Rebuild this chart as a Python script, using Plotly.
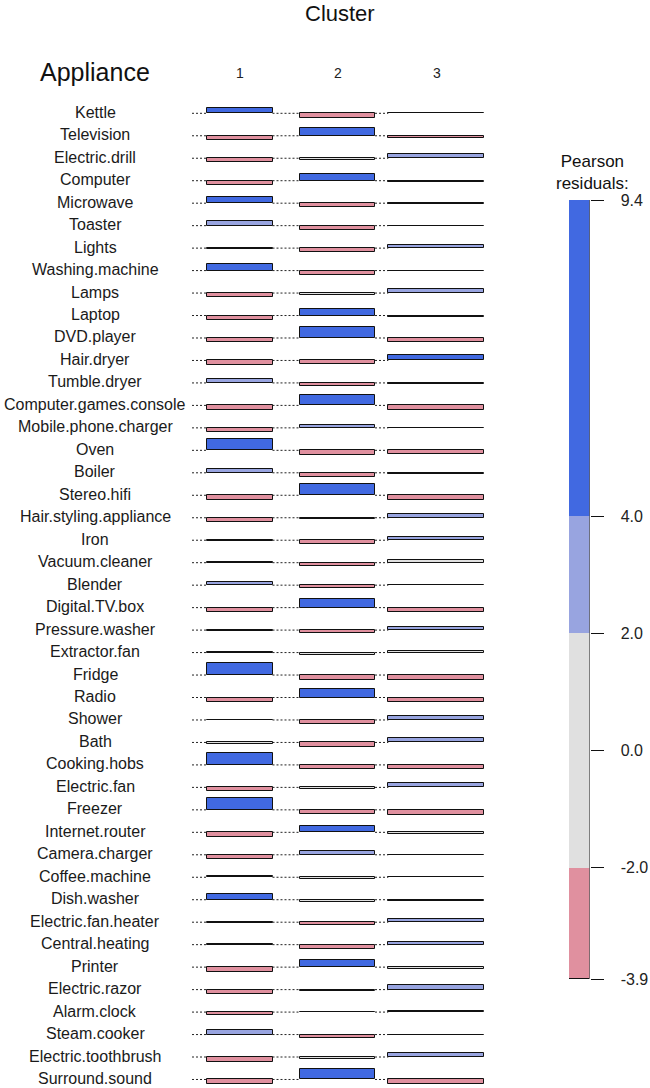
import plotly.graph_objects as go

appliances = [
    "Kettle", "Television", "Electric.drill", "Computer", "Microwave", "Toaster",
    "Lights", "Washing.machine", "Lamps", "Laptop", "DVD.player", "Hair.dryer",
    "Tumble.dryer", "Computer.games.console", "Mobile.phone.charger", "Oven",
    "Boiler", "Stereo.hifi", "Hair.styling.appliance", "Iron", "Vacuum.cleaner",
    "Blender", "Digital.TV.box", "Pressure.washer", "Extractor.fan", "Fridge",
    "Radio", "Shower", "Bath", "Cooking.hobs", "Electric.fan", "Freezer",
    "Internet.router", "Camera.charger", "Coffee.machine", "Dish.washer",
    "Electric.fan.heater", "Central.heating", "Printer", "Electric.razor",
    "Alarm.clock", "Steam.cooker", "Electric.toothbrush", "Surround.sound",
]
clusters = ["1", "2", "3"]

res_cluster1 = [
    4.5, -3.4, -3.0, -3.3, 4.6, 3.6, -0.8, 5.0, -3.0, -3.4, -3.2, -3.4,
    3.2, -3.4, -3.5, 9.4, 3.1, -3.4, -3.3, -1.0, 0.2, 2.9, -3.4, -1.0,
    0.1, 9.4, -3.4, 0.1, -0.9, 9.4, -3.0, 9.2, -3.5, -3.6, 1.3, 4.8,
    -0.8, 0.8, -3.6, -3.4, -2.4, 3.3, -3.6, -3.7,
]
res_cluster2 = [
    -3.5, 5.9, -1.5, 5.3, -3.1, -3.5, -2.8, -3.6, -1.6, 5.0, 8.5, -2.6,
    -2.4, 8.0, 2.6, -3.5, -3.3, 8.8, -1.2, -2.7, -2.5, -2.5, 7.0, -2.3,
    -1.8, -3.6, 7.2, -3.5, -3.3, -3.4, -1.3, -3.6, 4.8, 3.4, -1.4, -1.7,
    -2.3, -3.3, 5.4, -1.3, 0.4, -3.0, -1.2, 8.4,
]
res_cluster3 = [
    0.2, -2.1, 3.3, -1.2, -0.5, 0.1, 2.9, -0.3, 3.3, -1.3, -3.6, 4.3,
    -0.5, -3.3, -0.4, -3.0, -1.0, -3.6, 3.3, 2.6, 1.8, -0.2, -3.5, 2.3,
    1.2, -3.6, -3.3, 3.0, 3.3, -3.6, 3.2, -3.8, -1.0, 0.1, -0.1, -1.0,
    2.8, 2.3, -1.6, 3.3, 1.2, -0.4, 3.5, -3.6,
]

legend_breaks = [-3.9, -2.0, 2.0, 4.0, 9.4]
legend_tickvals = [9.4, 4.0, 2.0, 0.0, -2.0, -3.9]
legend_ticktext = ["9.4", "4.0", "2.0", "0.0", "-2.0", "-3.9"]

# ---- styling / geometry ----
W, H = 650, 1088
BLUE, LBLUE, GREY, PINK, RED = "#4169E1", "#98A4E0", "#E0E0E0", "#E0909F", "#D0506A"
FONT = "Liberation Sans, Arial, Helvetica, sans-serif"
ROW_STEP = 18.0              # residual units between row baselines
PX_PER_UNIT = 1.2483
TOP0_PX = 113.3
y_top = TOP0_PX / PX_PER_UNIT
y_range = [y_top - H / PX_PER_UNIT, y_top]

col_left = [206.5, 300.0, 388.3]
col_right = [272.5, 375.0, 484.0]
dot_start = 192.0
label_x = 95.0


def shade(v):
    if v > 4:
        return BLUE
    if v > 2:
        return LBLUE
    if v >= -2:
        return GREY
    if v >= -4:
        return PINK
    return RED


baselines = [-i * ROW_STEP for i in range(len(appliances))]

fig = go.Figure()

# dotted baselines in the gaps between the cells
gaps = [(dot_start, col_left[0]), (col_right[0], col_left[1]), (col_right[1], col_left[2])]
dx, dy = [], []
for b in baselines:
    for g0, g1 in gaps:
        dx += [g0, g1, None]
        dy += [b, b, None]
fig.add_trace(go.Scatter(x=dx, y=dy, mode="lines",
                         line=dict(color="#222222", width=1, dash="2px,2px"),
                         hoverinfo="skip", showlegend=False))

for j, res in enumerate([res_cluster1, res_cluster2, res_cluster3]):
    cx = (col_left[j] + col_right[j]) / 2
    w = col_right[j] - col_left[j]
    fig.add_trace(go.Bar(
        x=[cx] * len(res), y=res, base=baselines, width=w,
        marker=dict(color=[shade(v) for v in res],
                    line=dict(color="#111111", width=1)),
        showlegend=False, hoverinfo="skip",
    ))

# legend colour bar
seg_colors = [PINK, GREY, LBLUE, BLUE]
for k in range(len(legend_breaks) - 1):
    fig.add_trace(go.Bar(
        x=[0.5], y=[legend_breaks[k + 1] - legend_breaks[k]], base=[legend_breaks[k]],
        width=1, marker=dict(color=seg_colors[k], line=dict(width=0)),
        xaxis="x2", yaxis="y2", showlegend=False, hoverinfo="skip",
    ))
fig.add_trace(go.Bar(
    x=[0.5], y=[legend_breaks[-1] - legend_breaks[0]], base=[legend_breaks[0]],
    width=1, marker=dict(color="rgba(0,0,0,0)", line=dict(color="#111111", width=1)),
    xaxis="x2", yaxis="y2", showlegend=False, hoverinfo="skip",
))

annotations = []
for name, b in zip(appliances, baselines):
    annotations.append(dict(x=label_x, y=b, xref="x", yref="y", text=name,
                            showarrow=False, xanchor="center", yanchor="middle",
                            yshift=1, font=dict(family=FONT, size=16, color="#1a1a1a")))
for j, c in enumerate(clusters):
    annotations.append(dict(x=(col_left[j] + col_right[j]) / 2 + 0.5, y=1 - 73 / H,
                            xref="x", yref="paper", text=c, showarrow=False,
                            xanchor="center", yanchor="middle",
                            font=dict(family=FONT, size=14, color="#222222")))
annotations.append(dict(x=340, y=1 - 14 / H, xref="x", yref="paper", text="Cluster",
                        showarrow=False, xanchor="center", yanchor="middle",
                        font=dict(family=FONT, size=22, color="#111111")))
annotations.append(dict(x=95, y=1 - 72 / H, xref="x", yref="paper", text="Appliance",
                        showarrow=False, xanchor="center", yanchor="middle",
                        font=dict(family=FONT, size=25, color="#111111")))
annotations.append(dict(x=592, y=1 - 172 / H, xref="x", yref="paper",
                        text="Pearson<br>residuals:", showarrow=False,
                        xanchor="center", yanchor="middle", align="center",
                        font=dict(family=FONT, size=17, color="#111111")))

fig.update_layout(
    width=W, height=H, margin=dict(l=0, r=0, t=0, b=0, pad=0),
    autosize=False,
    paper_bgcolor="white", plot_bgcolor="white",
    barmode="overlay", bargap=0,
    xaxis=dict(range=[0, W], domain=[0, 1], visible=False, fixedrange=True,
               automargin=False),
    yaxis=dict(range=y_range, domain=[0, 1], visible=False, fixedrange=True,
               automargin=False),
    xaxis2=dict(range=[0, 1], domain=[569 / W, 589.5 / W], anchor="y2", visible=False,
                automargin=False),
    yaxis2=dict(range=[legend_breaks[0], legend_breaks[-1]],
                domain=[(H - 979) / H, (H - 200) / H], anchor="x2", side="right",
                tickvals=legend_tickvals, ticktext=legend_ticktext,
                ticks="outside", ticklen=13, tickwidth=1, tickcolor="#111111",
                showgrid=False, zeroline=False, showline=False, automargin=False,
                ticklabelstandoff=14,
                tickfont=dict(family=FONT, size=16, color="#222222")),
    annotations=annotations,
)

fig.write_html(
    "out.html",
    config={"responsive": False, "displayModeBar": False},
    post_script=(
        "document.documentElement.style.margin='0';"
        "document.documentElement.style.padding='0';"
        "document.documentElement.style.overflow='hidden';"
        "document.body.style.margin='0';document.body.style.padding='0';"
        "document.body.style.overflow='hidden';"
        "var d=document.getElementById('{plot_id}');"
        "d.style.position='fixed';d.style.top='0px';d.style.left='0px';"
    ),
)
